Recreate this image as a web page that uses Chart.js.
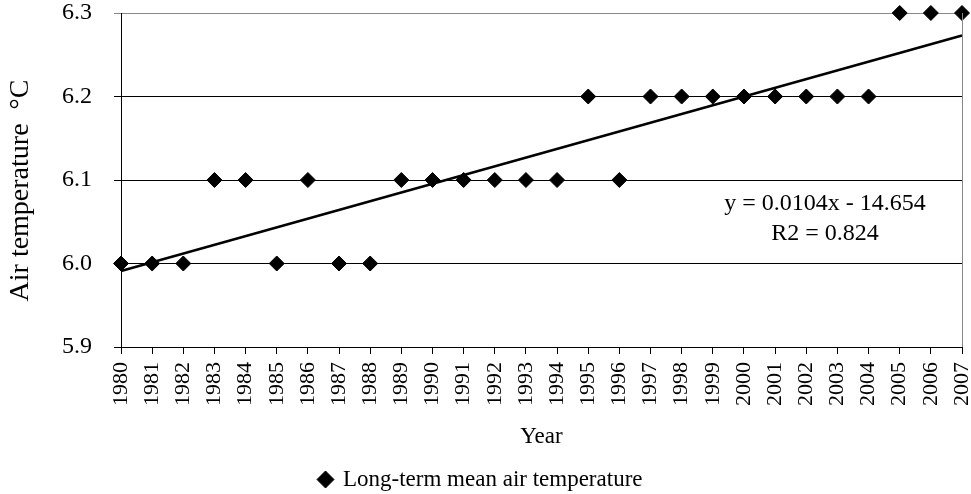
<!DOCTYPE html>
<html>
<head>
<meta charset="utf-8">
<script src="https://cdn.jsdelivr.net/npm/chart.js@4"></script>
<style>
  html, body { margin: 0; padding: 0; background: #fff; }
  #wrap { width: 971px; height: 494px; }
</style>
</head>
<body>
<div id="wrap"><canvas id="tempChart" width="971" height="494"></canvas></div>
<script>
const years = [1980,1981,1982,1983,1984,1985,1986,1987,1988,1989,1990,1991,1992,1993,
               1994,1995,1996,1997,1998,1999,2000,2001,2002,2003,2004,2005,2006,2007];
const temps = [6.0,6.0,6.0,6.1,6.1,6.0,6.1,6.0,6.0,6.1,6.1,6.1,6.1,6.1,
               6.1,6.2,6.1,6.2,6.2,6.2,6.2,6.2,6.2,6.2,6.2,6.3,6.3,6.3];
const trendYears = [1980, 2007];
const trendTemps = [5.991, 6.273];
const yTicks = [5.9, 6.0, 6.1, 6.2, 6.3];
const equationLines = ['y = 0.0104x - 14.654', 'R2 = 0.824'];

const serif = '"Liberation Serif", "Times New Roman", serif';

const frame = {
  id: 'frame',
  afterDraw(chart) {
    const { ctx, chartArea: a, scales } = chart;
    ctx.save();
    ctx.strokeStyle = '#888';
    ctx.lineWidth = 1;
    ctx.beginPath();
    ctx.moveTo(a.right + 0.5, a.top);
    ctx.lineTo(a.right + 0.5, a.bottom);
    ctx.stroke();
    // equation text
    ctx.fillStyle = '#000';
    ctx.font = '24px ' + serif;
    ctx.textAlign = 'center';
    ctx.textBaseline = 'middle';
    const cx = scales.x.getPixelForValue(2002.6);
    ctx.fillText(equationLines[0], cx, scales.y.getPixelForValue(6.072));
    ctx.fillText(equationLines[1], cx, scales.y.getPixelForValue(6.036));
    ctx.restore();
  }
};

new Chart(document.getElementById('tempChart'), {
  type: 'scatter',
  data: {
    datasets: [{
      label: 'Long-term mean air temperature',
      data: years.map((y, i) => ({ x: y, y: temps[i] })),
      pointStyle: 'rectRot',
      pointRadius: 7.5,
      pointHoverRadius: 7.5,
      backgroundColor: '#000',
      borderColor: '#000',
      clip: false
    }, {
      label: 'trend',
      type: 'line',
      data: trendYears.map((y, i) => ({ x: y, y: trendTemps[i] })),
      borderColor: '#000',
      borderWidth: 2.5,
      pointRadius: 0,
      fill: false,
      clip: false
    }]
  },
  options: {
    responsive: false,
    animation: false,
    layout: { padding: { top: 13, right: 9, left: 0, bottom: -7 } },
    plugins: {
      tooltip: { enabled: false },
      legend: {
        position: 'bottom',
        labels: {
          filter: item => item.text !== 'trend',
          usePointStyle: true,
          pointStyle: 'rectRot',
          boxWidth: 12,
          boxHeight: 12,
          padding: 10,
          color: '#000',
          font: { family: serif, size: 23 }
        }
      }
    },
    scales: {
      x: {
        type: 'linear',
        min: 1980,
        max: 2007,
        afterBuildTicks: s => { s.ticks = years.map(v => ({ value: v })); },
        afterFit: s => { s.height = 111; s.paddingLeft = 0; s.paddingRight = 0; },
        ticks: {
          callback: v => String(v),
          minRotation: 90,
          maxRotation: 90,
          color: '#000',
          padding: 8,
          font: { family: serif, size: 22 }
        },
        grid: { drawOnChartArea: false, drawTicks: true, tickLength: 7, color: '#000' },
        border: { color: '#000', width: 1 },
        title: {
          display: true,
          text: 'Year',
          color: '#000',
          padding: { top: 4, bottom: 7 },
          font: { family: serif, size: 23 }
        }
      },
      y: {
        min: 5.9,
        max: 6.3,
        afterBuildTicks: s => { s.ticks = yTicks.map(v => ({ value: v })); },
        afterFit: s => { s.width = 121; s.paddingTop = 0; s.paddingBottom = 0; },
        ticks: {
          callback: v => v.toFixed(1),
          color: '#000',
          padding: 22,
          font: { family: serif, size: 24 }
        },
        grid: {
          color: ctx => ctx.tick && ctx.tick.value === 6.3 ? '#888' : '#000',
          lineWidth: 1,
          tickLength: 7
        },
        border: { color: '#000', width: 1 },
        title: {
          display: true,
          text: 'Air temperature  \u00B0C   ',
          color: '#000',
          padding: { top: 4, bottom: 0 },
          font: { family: serif, size: 28 }
        }
      }
    }
  },
  plugins: [frame]
});
</script>
</body>
</html>
